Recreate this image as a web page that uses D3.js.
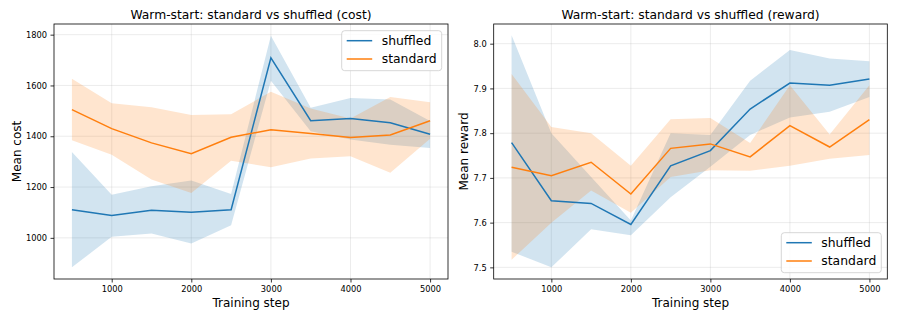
<!DOCTYPE html>
<html>
<head>
<meta charset="utf-8">
<script src="https://cdn.jsdelivr.net/npm/d3@7"></script>
<style>
  body { margin: 0; background: #fff; }
  svg { display: block; font-family: "DejaVu Sans", sans-serif; }
</style>
</head>
<body>
<svg id="chart" width="897" height="320"></svg>
<script>
// training steps
const steps = [500, 1000, 1500, 2000, 2500, 3000, 3500, 4000, 4500, 5000];

// cost panel
const costShuffled = [1111, 1088, 1109, 1101, 1111, 1709, 1461, 1470, 1453, 1408];
const costShuffledHi = [1338, 1170, 1203, 1226, 1173, 1796, 1512, 1551, 1545, 1460];
const costShuffledLo = [884, 1004, 1017, 978, 1050, 1619, 1420, 1387, 1367, 1354];
const costStandard = [1505, 1430, 1374, 1331, 1396, 1426, 1411, 1395, 1405, 1461];
const costStandardHi = [1626, 1530, 1514, 1484, 1487, 1575, 1509, 1470, 1555, 1534];
const costStandardLo = [1384, 1327, 1230, 1177, 1304, 1278, 1312, 1321, 1256, 1390];

// reward panel
const rewShuffled = [7.779, 7.649, 7.643, 7.596, 7.727, 7.761, 7.854, 7.912, 7.907, 7.921];
const rewShuffledHi = [8.019, 7.800, 7.702, 7.605, 7.800, 7.796, 7.917, 7.986, 7.967, 7.961];
const rewShuffledLo = [7.535, 7.500, 7.585, 7.572, 7.657, 7.725, 7.796, 7.835, 7.848, 7.881];
const rewStandard = [7.724, 7.705, 7.735, 7.664, 7.766, 7.776, 7.747, 7.817, 7.769, 7.830];
const rewStandardHi = [7.932, 7.814, 7.800, 7.727, 7.831, 7.834, 7.778, 7.907, 7.797, 7.907];
const rewStandardLo = [7.517, 7.600, 7.672, 7.622, 7.702, 7.717, 7.716, 7.727, 7.743, 7.751];

const xTicks = [1000, 2000, 3000, 4000, 5000];
const costTicks = [1000, 1200, 1400, 1600, 1800];
const rewTicks = [7.5, 7.6, 7.7, 7.8, 7.9, 8.0];

const blue = "#1f77b4", orange = "#ff7f0e";
const svg = d3.select("#chart");

const drawPanel = function(opt) {
    const x = d3.scaleLinear().domain([275, 5225]).range([opt.left, opt.right]);
    const y = d3.scaleLinear().domain(opt.yDomain).range([279, 24]);
    const g = svg.append("g");

    // grid
    g.selectAll(".gx").data(xTicks).enter().append("line")
        .attr("x1", d => x(d)).attr("x2", d => x(d))
        .attr("y1", 24).attr("y2", 279)
        .attr("stroke", "#b0b0b0").attr("stroke-opacity", 0.3).attr("stroke-width", 0.8);
    g.selectAll(".gy").data(opt.yTicks).enter().append("line")
        .attr("x1", opt.left).attr("x2", opt.right)
        .attr("y1", d => y(d)).attr("y2", d => y(d))
        .attr("stroke", "#b0b0b0").attr("stroke-opacity", 0.3).attr("stroke-width", 0.8);

    const series = [
        {name: "shuffled", color: blue, mean: opt.shuf, lo: opt.shufLo, hi: opt.shufHi},
        {name: "standard", color: orange, mean: opt.std, lo: opt.stdLo, hi: opt.stdHi}
    ];

    const area = d3.area()
        .x((d, i) => x(steps[i]))
        .y0(d => y(d[0]))
        .y1(d => y(d[1]));
    const line = d3.line()
        .x((d, i) => x(steps[i]))
        .y(d => y(d));

    series.forEach(s => {
        g.append("path")
            .attr("d", area(s.lo.map((v, i) => [v, s.hi[i]])))
            .attr("fill", s.color).attr("fill-opacity", 0.2);
    });
    series.forEach(s => {
        g.append("path")
            .attr("d", line(s.mean))
            .attr("fill", "none").attr("stroke", s.color).attr("stroke-width", 1.5);
    });

    // axes
    const xAxis = d3.axisBottom(x).tickValues(xTicks).tickSize(3.5).tickPadding(3.5).tickFormat(d3.format("d"));
    const yAxis = d3.axisLeft(y).tickValues(opt.yTicks).tickSize(3.5).tickPadding(3.5).tickFormat(opt.fmt);
    const ax = g.append("g").attr("transform", "translate(0,279)").call(xAxis);
    const ay = g.append("g").attr("transform", "translate(" + opt.left + ",0)").call(yAxis);
    [ax, ay].forEach(a => {
        a.select(".domain").remove();
        a.selectAll("text").attr("font-size", 8.3).attr("fill", "#000").attr("font-family", "DejaVu Sans");
        a.selectAll("line").attr("stroke", "#000").attr("stroke-width", 0.8);
    });

    g.append("rect")
        .attr("x", opt.left).attr("y", 24)
        .attr("width", opt.right - opt.left).attr("height", 255)
        .attr("fill", "none").attr("stroke", "#000").attr("stroke-width", 0.8);

    // titles
    g.append("text").attr("x", (opt.left + opt.right) / 2).attr("y", 19)
        .attr("text-anchor", "middle").attr("font-size", 12.3).text(opt.title);
    g.append("text").attr("x", (opt.left + opt.right) / 2).attr("y", 306.5)
        .attr("text-anchor", "middle").attr("font-size", 12).text("Training step");
    g.append("text")
        .attr("transform", "translate(" + opt.ylabelX + "," + 151.5 + ") rotate(-90)")
        .attr("text-anchor", "middle").attr("font-size", 12).text(opt.ylabel);

    // legend
    const lg = g.append("g").attr("transform", "translate(" + opt.legX + "," + opt.legY + ")");
    lg.append("rect").attr("width", 100).attr("height", 40).attr("rx", 3)
        .attr("fill", "#fff").attr("fill-opacity", 0.8)
        .attr("stroke", "#cccccc").attr("stroke-width", 0.8);
    series.forEach((s, i) => {
        const yy = 10 + i * 18.3;
        lg.append("line").attr("x1", 5).attr("x2", 30.5).attr("y1", yy).attr("y2", yy)
            .attr("stroke", s.color).attr("stroke-width", 1.5);
        lg.append("text").attr("x", 40).attr("y", yy + 4.4)
            .attr("font-size", 12.4).text(s.name);
    });
};

drawPanel({
    left: 54, right: 448, yDomain: [838, 1842], yTicks: costTicks, fmt: d3.format("d"),
    shuf: costShuffled, shufLo: costShuffledLo, shufHi: costShuffledHi,
    std: costStandard, stdLo: costStandardLo, stdHi: costStandardHi,
    title: "Warm-start: standard vs shuffled (cost)", ylabel: "Mean cost", ylabelX: 20.5,
    legX: 341.7, legY: 30.7
});
drawPanel({
    left: 493.7, right: 887.3, yDomain: [7.474, 8.044], yTicks: rewTicks, fmt: d3.format(".1f"),
    shuf: rewShuffled, shufLo: rewShuffledLo, shufHi: rewShuffledHi,
    std: rewStandard, stdLo: rewStandardLo, stdHi: rewStandardHi,
    title: "Warm-start: standard vs shuffled (reward)", ylabel: "Mean reward", ylabelX: 467.7,
    legX: 781.3, legY: 232.7
});
</script>
</body>
</html>
